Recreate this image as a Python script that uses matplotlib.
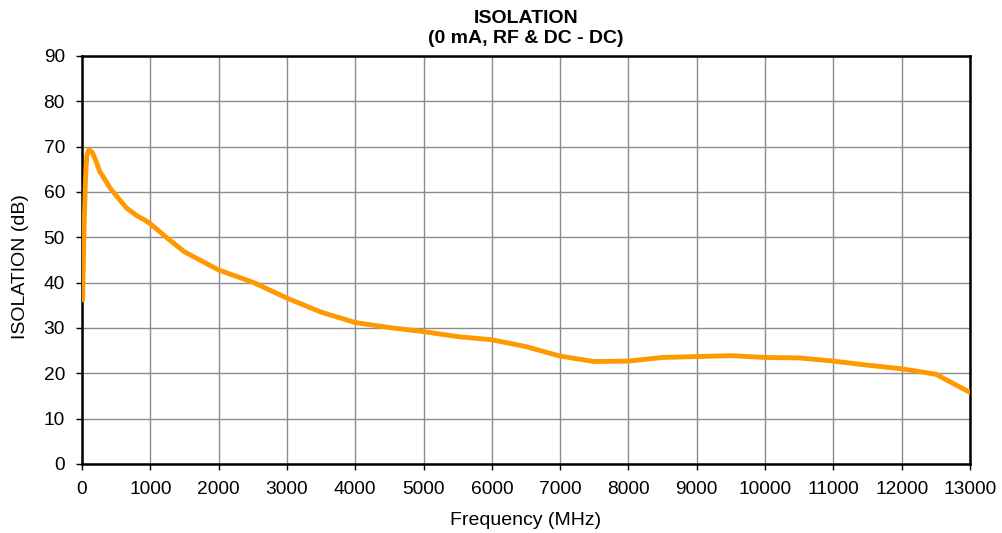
import matplotlib
matplotlib.use("Agg")
import matplotlib.pyplot as plt

freq_mhz = [10, 30, 50, 70, 100, 150, 200, 260, 300, 410, 500, 650, 800, 920, 1000,
            1250, 1500, 2000, 2500, 3000, 3500, 4000, 4500, 5000, 5500, 6000, 6500,
            7000, 7500, 8000, 8500, 9000, 9500, 10000, 10500, 11000, 11500, 12000,
            12500, 13000]
isolation_db = [36.2, 52.0, 62.5, 68.0, 69.3, 68.8, 67.0, 64.5, 63.6, 60.9, 59.2, 56.5,
                54.8, 53.8, 53.0, 49.8, 46.8, 42.8, 40.1, 36.6, 33.5, 31.2, 30.1, 29.2,
                28.1, 27.4, 25.9, 23.8, 22.6, 22.7, 23.5, 23.7, 23.9, 23.5, 23.4, 22.7,
                21.8, 21.0, 19.8, 15.8]

x_ticks = list(range(0, 13001, 1000))
y_ticks = list(range(0, 91, 10))

plt.rcParams['font.family'] = ['Liberation Sans', 'DejaVu Sans']

fig = plt.figure(figsize=(10.03, 5.33), dpi=100)
ax = fig.add_axes([82/1003, (533-464)/533, (970-82)/1003, (464-56)/533])

ax.plot(freq_mhz, isolation_db, color='#FF9900', linewidth=3.5, solid_joinstyle='round',
        solid_capstyle='round', zorder=3)

ax.set_xlim(0, 13000)
ax.set_ylim(0, 90)
ax.set_xticks(x_ticks)
ax.set_yticks(y_ticks)
ax.grid(True, color='#8c8c8c', linewidth=1.0)
ax.set_axisbelow(True)
for s in ax.spines.values():
    s.set_color('black')
    s.set_linewidth(1.8)
ax.tick_params(direction='out', length=4.3, width=1, labelsize=13.8, colors='black')
ax.tick_params(axis='x', pad=8)
ax.tick_params(axis='y', pad=8)

ax.set_xlabel('Frequency (MHz)', fontsize=14)
ax.xaxis.set_label_coords(0.5, -0.118)
ax.set_ylabel('ISOLATION (dB)', fontsize=14)
ax.yaxis.set_label_coords(-0.060, 0.485)
ax.set_title('ISOLATION\n(0 mA, RF & DC - DC)', fontsize=14, fontweight='bold',
             linespacing=1.2, pad=9.4)

fig.savefig('out.png', dpi=100)
